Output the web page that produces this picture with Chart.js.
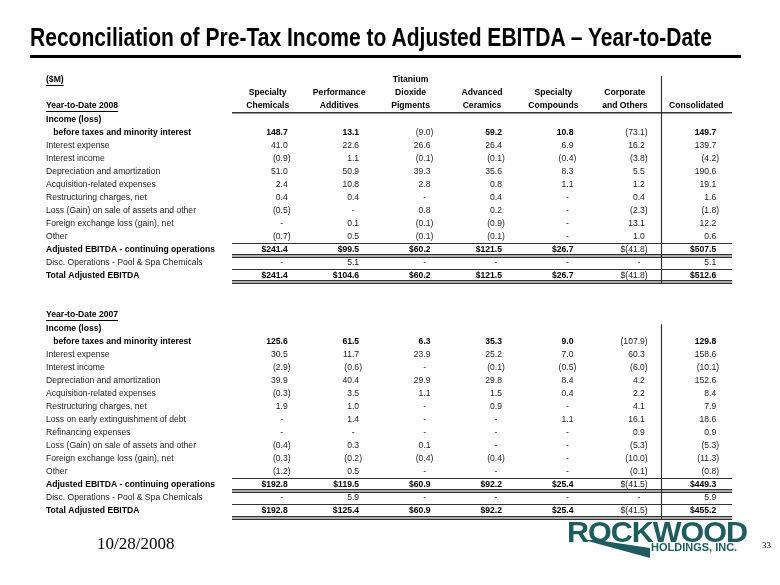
<!DOCTYPE html>
<html>
<head>
<meta charset="utf-8">
<script src="https://cdn.jsdelivr.net/npm/chart.js@4.4.1/dist/chart.umd.min.js"></script>
<style>
  html, body { margin: 0; padding: 0; background: #fff; }
  #page { position: relative; width: 780px; height: 585px; overflow: hidden; }
  #wrap { position: absolute; left: 0; top: 0; width: 780px; height: 585px; }
  .fit { position: absolute; white-space: nowrap; transform-origin: 0 50%; display: inline-block; }
  #title { left: 30px; top: 22px; line-height: 30px; color: #000;
           font: bold 26px 'Liberation Sans Narrow', 'Arial Narrow', 'Liberation Sans', Arial, sans-serif; }
  #rule { position: absolute; left: 30px; top: 55px; width: 711px; height: 3px; background: #000; }
  #date { position: absolute; left: 97px; top: 534px; line-height: 18px; font: 17px 'Liberation Serif', 'Times New Roman', serif; color: #000; }
  #pageno { position: absolute; left: 762px; top: 540px; font: 9px 'Liberation Serif', 'Times New Roman', serif; color: #000; }
  #logo { left: 567px; top: 515px; line-height: 32px; color: #1f5c5f; letter-spacing: -1px;
          font: bold 30px 'Liberation Sans', Arial, sans-serif; }
  #holdings { position: absolute; left: 651px; top: 541px; line-height: 12px; color: #1f5c5f;
              font: bold 11px 'Liberation Sans', Arial, sans-serif; }
  #swoosh { position: absolute; left: 0; top: 0; }
</style>
</head>
<body>
<div id="page">
  <div id="wrap"><canvas id="table"></canvas></div>
  <span id="title" class="fit">Reconciliation of Pre-Tax Income to Adjusted EBITDA – Year-to-Date</span>
  <div id="rule"></div>
  <svg id="swoosh" width="780" height="585"><polygon points="584,540 597,540 650,548 650,558" fill="#1f5c5f"/></svg>
  <span id="logo" class="fit">ROCKWOOD</span>
  <div id="holdings">HOLDINGS, INC.</div>
  <div id="date">10/28/2008</div>
  <div id="pageno">33</div>
</div>
<script>
// ---- data ----
const columns = ['Specialty Chemicals', 'Performance Additives', 'Titanium Dioxide Pigments',
  'Advanced Ceramics', 'Specialty Compounds', 'Corporate and Others', 'Consolidated'];
const columnHeaderLines = [['Specialty', 'Chemicals'], ['Performance', 'Additives'],
  ['Titanium', 'Dioxide', 'Pigments'], ['Advanced', 'Ceramics'], ['Specialty', 'Compounds'],
  ['Corporate', 'and Others'], ['Consolidated']];
const unitsLabel = '($M)';
const periods = ['Year-to-Date 2008', 'Year-to-Date 2007'];

const lines2008 = ['Income (loss)', 'before taxes and minority interest', 'Interest expense',
  'Interest income', 'Depreciation and amortization', 'Acquisition-related expenses',
  'Restructuring charges, net', 'Loss (Gain) on sale of assets and other',
  'Foreign exchange loss (gain), net', 'Other', 'Adjusted EBITDA - continuing operations',
  'Disc. Operations - Pool & Spa Chemicals', 'Total Adjusted EBITDA'];
const values2008 = [
  null,
  [148.7, 13.1, -9.0, 59.2, 10.8, -73.1, 149.7],
  [41.0, 22.6, 26.6, 26.4, 6.9, 16.2, 139.7],
  [-0.9, 1.1, -0.1, -0.1, -0.4, -3.8, -4.2],
  [51.0, 50.9, 39.3, 35.6, 8.3, 5.5, 190.6],
  [2.4, 10.8, 2.8, 0.8, 1.1, 1.2, 19.1],
  [0.4, 0.4, 0, 0.4, 0, 0.4, 1.6],
  [-0.5, 0, 0.8, 0.2, 0, -2.3, -1.8],
  [0, 0.1, -0.1, -0.9, 0, 13.1, 12.2],
  [-0.7, 0.5, -0.1, -0.1, 0, 1.0, 0.6],
  [241.4, 99.5, 60.2, 121.5, 26.7, -41.8, 507.5],
  [0, 5.1, 0, 0, 0, 0, 5.1],
  [241.4, 104.6, 60.2, 121.5, 26.7, -41.8, 512.6]
];

const lines2007 = ['Income (loss)', 'before taxes and minority interest', 'Interest expense',
  'Interest income', 'Depreciation and amortization', 'Acquisition-related expenses',
  'Restructuring charges, net', 'Loss on early extinguishment of debt', 'Refinancing expenses',
  'Loss (Gain) on sale of assets and other', 'Foreign exchange loss (gain), net', 'Other',
  'Adjusted EBITDA - continuing operations', 'Disc. Operations - Pool & Spa Chemicals',
  'Total Adjusted EBITDA'];
const values2007 = [
  null,
  [125.6, 61.5, 6.3, 35.3, 9.0, -107.9, 129.8],
  [30.5, 11.7, 23.9, 25.2, 7.0, 60.3, 158.6],
  [-2.9, -0.6, 0, -0.1, -0.5, -6.0, -10.1],
  [39.9, 40.4, 29.9, 29.8, 8.4, 4.2, 152.6],
  [-0.3, 3.5, 1.1, 1.5, 0.4, 2.2, 8.4],
  [1.9, 1.0, 0, 0.9, 0, 4.1, 7.9],
  [0, 1.4, 0, 0, 1.1, 16.1, 18.6],
  [0, 0, 0, 0, 0, 0.9, 0.9],
  [-0.4, 0.3, 0.1, 0, 0, -5.3, -5.3],
  [-0.3, -0.2, -0.4, -0.4, 0, -10.0, -11.3],
  [-1.2, 0.5, 0, 0, 0, -0.1, -0.8],
  [192.8, 119.5, 60.9, 92.2, 25.4, -41.5, 449.3],
  [0, 5.9, 0, 0, 0, 0, 5.9],
  [192.8, 125.4, 60.9, 92.2, 25.4, -41.5, 455.2]
];

// ---- styling ----
const FONT = "'Liberation Sans', Arial, sans-serif";
const SIZE = 8.6;
const boldLabels = ['Income (loss)', 'before taxes and minority interest',
  'Adjusted EBITDA - continuing operations', 'Total Adjusted EBITDA', unitsLabel, ...periods];
const underlined = [unitsLabel, ...periods];
const dollarRows = ['Adjusted EBITDA - continuing operations', 'Total Adjusted EBITDA'];
const boldValueRows = ['before taxes and minority interest', ...dollarRows];
const singleRuleAfter = ['Other', 'Disc. Operations - Pool & Spa Chemicals'];
const doubleRuleAfter = dollarRows;
const CELL_RIGHT = 20;

// rows of the table, top to bottom
const rows = [];
rows.push({ label: unitsLabel }, { label: '' }, { label: periods[0] });
const first2008 = rows.length;
lines2008.forEach((l, i) => rows.push({ label: l, values: values2008[i] }));
const last2008 = rows.length - 1;
rows.push({ label: '' }, { label: '' }, { label: periods[1] });
const first2007 = rows.length;
lines2007.forEach((l, i) => rows.push({ label: l, values: values2007[i] }));
const last2007 = rows.length - 1;

const yLabels = rows.map(r => r.label === 'before taxes and minority interest' ? '   ' + r.label : r.label);

function fmt(v, dollar) {
  if (v === 0) return '-';
  const s = Math.abs(v).toFixed(1);
  return (dollar ? '$' : '') + (v < 0 ? '(' + s + ')' : s);
}

const tablePlugin = {
  id: 'tableCells',
  afterDraw(chart) {
    const ctx = chart.ctx;
    const xs = chart.scales.x, ys = chart.scales.y;
    const area = chart.chartArea;
    const step = ys.getPixelForValue(1) - ys.getPixelForValue(0);
    ctx.save();
    ctx.textBaseline = 'middle';

    // column headers, bottom aligned on the header row
    ctx.fillStyle = '#000';
    ctx.font = `bold ${SIZE}px ${FONT}`;
    ctx.textAlign = 'center';
    columnHeaderLines.forEach((lines, c) => {
      lines.forEach((t, i) => {
        ctx.fillText(t, xs.getPixelForValue(c), ys.getPixelForValue(first2008 - 1 - (lines.length - 1 - i)));
      });
    });

    // underlined labels
    ctx.strokeStyle = '#000';
    ctx.lineWidth = 1;
    rows.forEach((r, i) => {
      if (!underlined.includes(r.label)) return;
      const w = ctx.measureText(r.label).width;
      const py = Math.round(ys.getPixelForValue(i) + 5) + 0.5;
      ctx.beginPath(); ctx.moveTo(ys.left, py); ctx.lineTo(ys.left + w, py); ctx.stroke();
    });

    // cell values
    rows.forEach((r, i) => {
      if (!r.values) return;
      const py = ys.getPixelForValue(i);
      const dollar = dollarRows.includes(r.label);
      r.values.forEach((v, c) => {
        const bold = boldValueRows.includes(r.label) && v > 0;
        ctx.font = `${bold ? 'bold ' : ''}${SIZE}px ${FONT}`;
        ctx.fillStyle = bold ? '#000' : '#222';
        const right = xs.getPixelForValue(c) + CELL_RIGHT;
        if (v === 0) {
          ctx.textAlign = 'center';
          ctx.fillText('-', right - 6, py);
        } else {
          ctx.textAlign = 'right';
          ctx.fillText(fmt(v, dollar), v < 0 ? right + ctx.measureText(')').width : right, py);
        }
      });
    });

    // rules
    ctx.strokeStyle = '#333';
    const hline = (y, w) => {
      ctx.lineWidth = w;
      ctx.beginPath(); ctx.moveTo(area.left, y); ctx.lineTo(area.right, y); ctx.stroke();
    };
    hline(ys.getPixelForValue(first2008 - 1) + step / 2, 1.5);
    rows.forEach((r, i) => {
      const mid = ys.getPixelForValue(i) + step / 2;
      if (singleRuleAfter.includes(r.label)) hline(Math.round(mid) + 0.5, 1);
      if (doubleRuleAfter.includes(r.label)) {
        ctx.fillStyle = '#aaa';
        ctx.fillRect(area.left, Math.round(mid) - 1, area.right - area.left, 2);
        hline(Math.round(mid) - 1.5, 1);
        hline(Math.round(mid) + 1.5, 1);
      }
    });

    // divider before the consolidated column
    const vx = Math.round((xs.getPixelForValue(columns.length - 2) + xs.getPixelForValue(columns.length - 1)) / 2) + 0.5;
    ctx.lineWidth = 1.2;
    [[0, last2008], [first2007, last2007]].forEach(([a, b]) => {
      ctx.beginPath();
      ctx.moveTo(vx, ys.getPixelForValue(a) - 0.3 * step);
      ctx.lineTo(vx, ys.getPixelForValue(b) + step / 2 + 1.5);
      ctx.stroke();
    });
    ctx.restore();
  }
};

const chart = new Chart(document.getElementById('table'), {
  type: 'scatter',
  data: { datasets: [{ data: [] }] },
  options: {
    responsive: true,
    maintainAspectRatio: false,
    animation: false,
    events: [],
    layout: { padding: { left: 46, right: 48, top: 80, bottom: 74 } },
    plugins: { legend: { display: false }, tooltip: { enabled: false } },
    scales: {
      x: { type: 'category', labels: columns, offset: true, display: false },
      y: {
        type: 'category',
        labels: yLabels,
        offset: false,
        position: 'left',
        grid: { display: false },
        border: { display: false },
        afterFit: s => { s.width = 186; },
        ticks: {
          autoSkip: false,
          crossAlign: 'far',
          padding: 0,
          color: c => boldLabels.includes(rows[c.index].label) ? '#000' : '#1a1a1a',
          font: c => ({ family: FONT, size: SIZE, weight: boldLabels.includes(rows[c.index].label) ? 'bold' : 'normal' })
        }
      }
    }
  },
  plugins: [tablePlugin]
});

// squeeze the title and logo words to their widths in the slide
function fitWidth(id, w) {
  const el = document.getElementById(id);
  el.style.transform = `scaleX(${w / el.getBoundingClientRect().width})`;
}
fitWidth('title', 682);
fitWidth('logo', 180);
</script>
</body>
</html>
